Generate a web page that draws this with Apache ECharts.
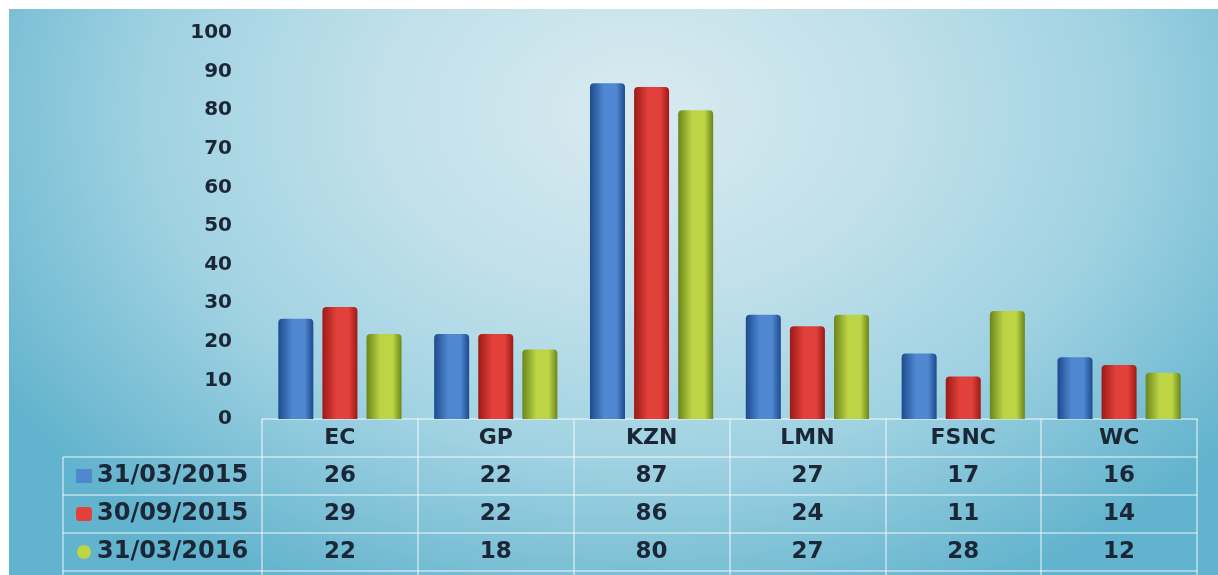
<!DOCTYPE html>
<html>
<head>
<meta charset="utf-8">
<script src="https://cdn.jsdelivr.net/npm/echarts@6/dist/echarts.min.js"></script>
<style>
  html, body { margin: 0; padding: 0; background: #ffffff; }
  #chart {
    position: absolute; left: 9px; top: 9px; width: 1209px; height: 566px;
    background: radial-gradient(ellipse 62% 95% at 52% 18%, #d9eaf0 0%, #c0e0ea 35%, #a0d2e2 65%, #62b3cd 100%);
  }
</style>
</head>
<body>
<div id="chart"></div>
<script>
const categories = ['EC', 'GP', 'KZN', 'LMN', 'FSNC', 'WC'];
const seriesNames = ['31/03/2015', '30/09/2015', '31/03/2016'];
const values2015a = [26, 22, 87, 27, 17, 16];
const values2015b = [29, 22, 86, 24, 11, 14];
const values2016a = [22, 18, 80, 27, 28, 12];
const yTicks = [0, 10, 20, 30, 40, 50, 60, 70, 80, 90, 100];

const allValues = [values2015a, values2015b, values2016a];
const palettes = [
  { dark: '#1d4a8e', light: '#4f88d0', icon: 'rect' },
  { dark: '#9c1a17', light: '#e2403a', icon: 'roundRect' },
  { dark: '#6a861b', light: '#bdd545', icon: 'circle' }
];

function grad(p) {
  return new echarts.graphic.LinearGradient(0, 0, 1, 0, [
    { offset: 0, color: p.dark },
    { offset: 0.4, color: p.light },
    { offset: 0.75, color: p.light },
    { offset: 1, color: p.dark }
  ]);
}

const chart = echarts.init(document.getElementById('chart'), null, { renderer: 'canvas' });

const textColor = '#1b2636';
const fontFam = '"DejaVu Sans", Verdana, sans-serif';
const lineCol = 'rgba(255,255,255,0.6)';

// layout (container coords)
const H = 566;
const gridLeft = 253, gridRight = 21, gridTop = 24, gridBottom = 156;
const rowH = 38;
const axisY = H - gridBottom;
const tableLeft = 54;
const tableRight = 1209 - gridRight;

const rich = {
  h: { fontSize: 22, fontWeight: 'bold', color: textColor, fontFamily: fontFam, lineHeight: rowH, height: rowH },
  v: { fontSize: 23, fontWeight: 'bold', color: textColor, fontFamily: fontFam, lineHeight: rowH, height: rowH }
};

const hLines = [];
for (let i = 1; i <= 4; i++) {
  const y = axisY + rowH * i;
  hLines.push({
    type: 'line',
    shape: { x1: tableLeft, y1: y, x2: tableRight, y2: y },
    style: { stroke: lineCol, lineWidth: 1.5 },
    silent: true
  });
}
hLines.push({
  type: 'line',
  shape: { x1: tableLeft, y1: axisY + rowH, x2: tableLeft, y2: H },
  style: { stroke: lineCol, lineWidth: 1.5 },
  silent: true
});

const option = {
  animation: false,
  backgroundColor: 'transparent',
  grid: { left: gridLeft, right: gridRight, top: gridTop, bottom: gridBottom, containLabel: false },
  legend: {
    orient: 'vertical',
    left: 67,
    top: axisY + rowH,
    padding: 0,
    height: 200,
    itemGap: 0,
    itemWidth: 16,
    itemHeight: 14,
    textStyle: { fontSize: 24, fontWeight: 'bold', color: textColor, fontFamily: fontFam, lineHeight: rowH, height: rowH, padding: [0, 0, 0, 0] },
    data: seriesNames.map((n, i) => ({ name: n, icon: palettes[i].icon, itemStyle: { color: palettes[i].light } }))
  },
  xAxis: {
    type: 'category',
    data: categories,
    boundaryGap: true,
    axisLine: { show: true, lineStyle: { color: lineCol, width: 1.5 } },
    axisTick: { show: true, length: H - axisY, lineStyle: { color: lineCol, width: 1.5 } },
    axisLabel: {
      margin: 0,
      interval: 0,
      formatter: function (val, idx) {
        const rows = ['{h|' + val + '}'];
        allValues.forEach(arr => rows.push('{v|' + arr[idx] + '}'));
        return rows.join('\n');
      },
      rich: rich
    },
    splitLine: { show: false }
  },
  yAxis: {
    type: 'value',
    min: 0,
    max: 100,
    interval: 10,
    axisLine: { show: false },
    axisTick: { show: false },
    splitLine: { show: false },
    axisLabel: {
      margin: 30,
      fontSize: 20,
      fontWeight: 'bold',
      color: textColor,
      fontFamily: fontFam,
      padding: [3, 0, 0, 0],
      formatter: v => yTicks.includes(v) ? String(v) : ''
    }
  },
  graphic: hLines,
  series: allValues.map((arr, i) => ({
    name: seriesNames[i],
    type: 'bar',
    data: arr,
    barWidth: 35,
    barGap: '26%',
    itemStyle: {
      color: grad(palettes[i]),
      borderRadius: [4, 4, 0, 0]
    }
  }))
};

chart.setOption(option);
</script>
</body>
</html>
